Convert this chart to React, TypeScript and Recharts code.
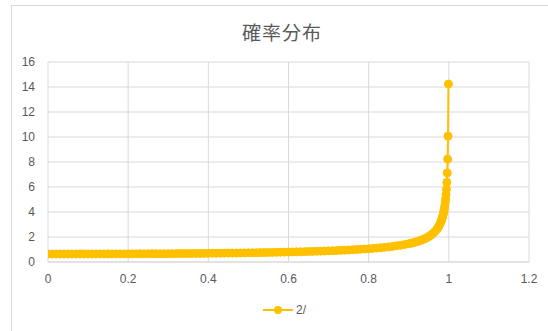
import React from "react";
import { LineChart, Line, CartesianGrid, XAxis, YAxis } from "recharts";

const title = "確率分布";
const seriesName = "2/";

const xValues = [
  0, 0.01, 0.02, 0.03, 0.04, 0.05, 0.06, 0.07, 0.08, 0.09,
  0.1, 0.11, 0.12, 0.13, 0.14, 0.15, 0.16, 0.17, 0.18, 0.19,
  0.2, 0.21, 0.22, 0.23, 0.24, 0.25, 0.26, 0.27, 0.28, 0.29,
  0.3, 0.31, 0.32, 0.33, 0.34, 0.35, 0.36, 0.37, 0.38, 0.39,
  0.4, 0.41, 0.42, 0.43, 0.44, 0.45, 0.46, 0.47, 0.48, 0.49,
  0.5, 0.51, 0.52, 0.53, 0.54, 0.55, 0.56, 0.57, 0.58, 0.59,
  0.6, 0.61, 0.62, 0.63, 0.64, 0.65, 0.66, 0.67, 0.68, 0.69,
  0.7, 0.71, 0.72, 0.73, 0.74, 0.75, 0.76, 0.77, 0.78, 0.79,
  0.8, 0.81, 0.82, 0.83, 0.84, 0.85, 0.86, 0.87, 0.88, 0.89,
  0.9, 0.905, 0.91, 0.915, 0.92, 0.925, 0.93, 0.935, 0.94, 0.945,
  0.95, 0.955, 0.96, 0.965, 0.97, 0.972, 0.974, 0.976, 0.978, 0.98,
  0.981, 0.982, 0.983, 0.984, 0.985, 0.986, 0.987, 0.988, 0.989, 0.99,
  0.991, 0.992, 0.993, 0.994, 0.995, 0.996, 0.997, 0.998, 0.999,
];

const yValues = [
  0.637, 0.637, 0.637, 0.637, 0.637, 0.637, 0.638, 0.638, 0.639, 0.639,
  0.64, 0.641, 0.641, 0.642, 0.643, 0.644, 0.645, 0.646, 0.647, 0.648,
  0.65, 0.651, 0.653, 0.654, 0.656, 0.657, 0.659, 0.661, 0.663, 0.665,
  0.667, 0.67, 0.672, 0.674, 0.677, 0.68, 0.682, 0.685, 0.688, 0.691,
  0.695, 0.698, 0.701, 0.705, 0.709, 0.713, 0.717, 0.721, 0.726, 0.73,
  0.735, 0.74, 0.745, 0.751, 0.756, 0.762, 0.768, 0.775, 0.781, 0.788,
  0.796, 0.803, 0.811, 0.82, 0.829, 0.838, 0.847, 0.858, 0.868, 0.88,
  0.891, 0.904, 0.917, 0.931, 0.946, 0.962, 0.98, 0.998, 1.017, 1.038,
  1.061, 1.086, 1.112, 1.141, 1.173, 1.208, 1.248, 1.291, 1.34, 1.396,
  1.46, 1.496, 1.535, 1.578, 1.624, 1.675, 1.732, 1.795, 1.866, 1.946,
  2.039, 2.146, 2.274, 2.427, 2.619, 2.709, 2.81, 2.923, 3.052, 3.199,
  3.281, 3.37, 3.467, 3.573, 3.689, 3.818, 3.961, 4.122, 4.304, 4.513,
  4.756, 5.043, 5.39, 5.82, 6.374, 7.125, 8.225, 10.07, 14.24,
];

const xTicks = [0, 0.2, 0.4, 0.6, 0.8, 1, 1.2];
const yTicks = [0, 2, 4, 6, 8, 10, 12, 14, 16];

const gold = "#FFC000";
const textGray = "#595959";
const gridGray = "#D9D9D9";
const font = '"Liberation Sans", Arial, sans-serif';

const data = xValues.map((x, i) => ({ x, y: yValues[i] }));

export default function App() {
  return (
    <div
      style={{
        position: "absolute",
        left: 0,
        top: 0,
        width: 548,
        height: 331,
        overflow: "hidden",
        background: "#fff",
      }}
    >
      <div
        style={{
          position: "absolute",
          left: 11,
          top: 5,
          width: 600,
          height: 400,
          border: `1px solid ${gridGray}`,
        }}
      />
      <div
        style={{
          position: "absolute",
          left: 182,
          top: 18,
          width: 200,
          textAlign: "center",
          fontFamily: '"Noto Sans CJK JP", sans-serif',
          fontSize: 19,
          lineHeight: "28px",
          color: textGray,
          letterSpacing: 1,
        }}
      >
        {title}
      </div>
      <div style={{ position: "absolute", left: 0, top: 0 }}>
        <LineChart
          width={548}
          height={331}
          data={data}
          margin={{ top: 62, right: 19, bottom: 39, left: 8 }}
        >
          <CartesianGrid stroke={gridGray} vertical horizontal />
          <XAxis
            dataKey="x"
            type="number"
            domain={[0, 1.2]}
            ticks={xTicks}
            tickLine={false}
            tickSize={6}
            tickMargin={6}
            height={30}
            axisLine={{ stroke: gridGray }}
            tick={{ fill: textGray, fontSize: 12, fontFamily: font }}
            allowDataOverflow
          />
          <YAxis
            type="number"
            domain={[0, 16]}
            ticks={yTicks}
            width={40}
            tickLine={false}
            axisLine={false}
            tickSize={6}
            tickMargin={7}
            tick={{ fill: textGray, fontSize: 12, fontFamily: font }}
          />
          <Line
            type="linear"
            dataKey="y"
            name={seriesName}
            stroke={gold}
            strokeWidth={2}
            dot={{ r: 4, fill: gold, stroke: gold, strokeWidth: 1 }}
            isAnimationActive={false}
          />
        </LineChart>
      </div>
      <div
        style={{
          position: "absolute",
          left: 263,
          top: 303,
          display: "flex",
          alignItems: "center",
          fontFamily: font,
          fontSize: 12,
          color: textGray,
        }}
      >
        <svg width={30} height={14} style={{ marginRight: 3 }}>
          <line x1={0} y1={7} x2={30} y2={7} stroke={gold} strokeWidth={2} />
          <circle cx={15} cy={7} r={4} fill={gold} />
        </svg>
        <span>{seriesName}</span>
      </div>
    </div>
  );
}
